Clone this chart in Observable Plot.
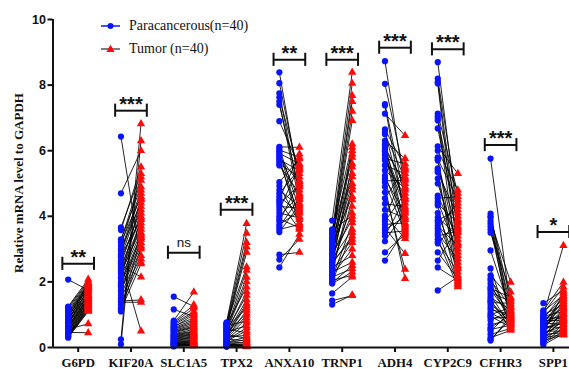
<!DOCTYPE html>
<html><head><meta charset="utf-8">
<script src="https://cdn.jsdelivr.net/npm/d3@7"></script>
<script src="https://cdn.jsdelivr.net/npm/@observablehq/plot@0.6"></script>
<style>
body{margin:0;background:#fff;}
#wrap{position:relative;width:569px;height:369px;overflow:hidden;}
#ylab{position:absolute;left:19px;top:183px;transform:translate(-50%,-50%) rotate(-90deg);white-space:nowrap;font:bold 13px "Liberation Serif";color:#111;}
#legend{position:absolute;left:101px;top:14px;font:14px "Liberation Serif",serif;color:#111;}
#legend .row{display:flex;align-items:center;height:23px;}
#legend svg{margin-right:9px;}
</style></head>
<body><div id="wrap"><div id="ylab"></div><div id="legend"></div></div>
<script>
const genes = ["G6PD","KIF20A","SLC1A5","TPX2","ANXA10","TRNP1","ADH4","CYP2C9","CFHR3","SPP1"];
const seriesNames = ["Paracancerous(n=40)","Tumor (n=40)"];
const yLabel = "Relative mRNA level to GAPDH";
const sigLabels = ["**","***","ns","***","**","***","***","***","***","*"];
const sigHeights = [2.55,7.22,2.89,4.2,8.77,8.77,9.14,9.09,6.17,3.52];

const g6pdPara = [2.07,1.25,1.22,1.18,1.12,1.08,1.05,1.02,0.98,0.95,0.92,0.9,0.88,0.85,0.82,0.8,0.78,0.75,0.72,0.7,0.68,0.66,0.64,0.62,0.6,0.58,0.56,0.54,0.52,0.5,0.48,0.46,0.45,0.42,0.4,0.38,0.36,0.34,0.32,0.3];
const g6pdTumor = [1.75,2.08,2.02,1.98,1.95,1.92,1.88,1.85,1.82,1.78,1.95,1.72,1.7,1.65,1.88,1.62,1.6,1.58,1.55,1.8,1.52,1.5,1.48,1.45,1.42,1.4,0.72,1.38,1.35,1.32,1.3,0.45,1.28,1.25,1.22,1.2,1.18,1.15,1.12,1.1];
const kif20aPara = [6.43,4.7,3.66,3.58,3.3,3.25,3.2,3.1,3.0,2.95,2.85,2.8,2.75,2.65,2.6,2.55,2.5,2.45,2.4,2.35,2.3,2.25,2.15,2.1,2.0,1.95,1.9,1.85,1.75,1.7,1.6,1.5,1.42,1.38,1.3,1.2,1.15,1.1,0.25,0.1];
const kif20aTumor = [2.6,6.0,5.3,5.5,4.9,5.2,4.6,5.1,4.4,4.8,4.7,3.9,4.5,4.2,0.5,4.3,2.15,4.0,4.1,3.8,3.6,3.7,3.5,4.55,3.4,3.3,3.95,3.2,3.1,3.45,3.0,2.8,1.45,1.38,2.7,3.35,2.55,3.05,6.82,6.3];
const slc1a5Para = [1.55,1.16,0.82,0.78,0.75,0.72,0.68,0.65,0.62,0.6,0.57,0.55,0.52,0.5,0.48,0.45,0.42,0.4,0.38,0.36,0.34,0.32,0.3,0.28,0.26,0.24,0.22,0.2,0.18,0.16,0.15,0.14,0.12,0.11,0.1,0.09,0.08,0.06,0.05,0.03];
const slc1a5Tumor = [1.25,0.95,1.69,1.3,1.2,1.1,1.05,0.9,1.0,0.85,0.8,0.75,0.7,0.65,0.62,0.6,0.55,0.5,0.48,0.45,0.42,0.4,0.38,0.35,0.32,0.3,0.28,0.25,0.22,0.2,0.18,0.16,0.14,0.12,0.1,0.09,0.08,0.07,0.06,0.05];
const tpx2Para = [0.77,0.74,0.72,0.7,0.68,0.66,0.64,0.62,0.6,0.58,0.56,0.54,0.52,0.5,0.48,0.46,0.44,0.42,0.4,0.38,0.36,0.34,0.32,0.3,0.28,0.26,0.24,0.22,0.2,0.18,0.16,0.14,0.12,0.1,0.09,0.08,0.06,0.05,0.04,0.02];
const tpx2Tumor = [3.78,2.45,3.48,1.84,3.2,0.81,3.06,2.9,1.2,2.35,0.45,2.14,1.59,2.0,0.66,1.7,1.05,1.45,0.28,1.35,1.28,0.98,0.37,1.13,0.9,0.2,0.75,0.6,0.51,0.13,0.32,0.24,0.05,0.16,0.1,0.08,0.06,0.04,0.03,0.02];
const anxa10Para = [8.39,8.06,7.75,7.63,7.5,7.4,6.9,6.12,6.08,6.02,5.98,5.92,5.88,5.82,5.78,5.72,5.66,5.6,5.55,5.04,4.92,4.8,4.7,4.6,4.52,4.45,4.38,4.3,4.2,4.1,4.0,3.92,3.85,3.75,3.68,3.6,3.52,2.83,2.68,2.44];
const anxa10Tumor = [4.9,5.1,4.6,5.3,4.4,4.8,5.5,6.1,4.2,5.8,3.9,5.6,4.5,5.0,3.7,5.4,4.0,5.2,4.7,5.75,3.8,4.3,5.45,4.1,5.9,3.6,4.95,4.25,5.55,3.95,4.65,3.65,5.05,4.15,4.55,3.75,4.35,2.9,3.3,3.45];
const trnp1Para = [3.87,3.57,3.5,3.45,3.4,3.35,3.3,3.25,3.2,3.15,3.1,3.05,3.0,2.95,2.9,2.85,2.8,2.75,2.7,2.65,2.6,2.55,2.5,2.45,2.4,2.35,2.3,2.25,2.2,2.15,2.1,2.05,2.0,1.97,1.95,3.6,1.65,1.43,1.31,2.6];
const trnp1Tumor = [8.39,6.2,8.05,5.8,7.68,7.5,5.2,7.2,6.92,4.6,6.1,6.0,5.5,5.0,4.8,3.9,5.9,4.3,3.6,5.3,4.1,3.4,5.6,2.8,4.5,3.2,2.6,4.9,3.0,2.4,3.8,2.2,3.5,2.5,2.3,4.0,2.15,1.58,1.6,3.3];
const adh4Para = [8.73,8.04,7.42,7.38,7.13,6.65,6.58,6.5,6.3,6.12,6.05,5.98,5.9,5.76,5.7,5.55,5.24,5.15,5.08,5.03,4.73,4.38,4.02,3.95,3.85,3.75,3.65,3.58,3.5,3.24,2.9,2.65,6.0,5.4,4.9,4.55,4.2,3.4,5.85,6.2];
const adh4Tumor = [4.8,5.2,4.5,3.9,6.46,5.5,4.2,5.15,5.76,4.9,5.0,4.4,3.4,5.6,4.6,5.3,3.7,4.1,5.1,3.5,2.38,4.3,3.32,5.4,4.7,3.8,2.86,4.0,3.55,4.15,3.45,3.6,3.65,4.85,2.1,5.45,3.95,4.55,4.25,3.75];
const cyp2c9Para = [8.7,8.2,8.1,8.05,7.13,7.05,6.98,6.92,6.68,6.13,5.8,5.75,5.7,5.46,5.4,5.34,5.15,4.63,4.55,4.45,4.38,4.33,3.96,3.88,3.8,3.72,3.63,3.47,3.4,3.3,3.22,3.17,2.9,2.65,2.44,1.74,6.0,5.0,4.1,3.55];
const cyp2c9Tumor = [3.9,4.3,3.5,2.8,4.7,3.2,2.5,4.1,3.7,5.3,2.2,4.5,3.0,3.6,2.0,4.0,2.6,3.3,4.6,2.9,3.8,1.9,3.4,4.2,2.4,3.1,4.4,2.7,3.55,1.85,2.3,3.85,2.1,3.65,2.05,2.15,4.8,3.15,2.45,1.95];
const cfhr3Para = [5.76,4.08,4.0,3.96,3.86,3.78,3.7,3.6,3.5,2.96,2.41,2.2,2.1,2.04,1.95,1.85,1.75,1.68,1.6,1.52,1.45,1.37,1.3,1.22,1.15,1.06,1.0,0.95,0.9,0.82,0.7,0.61,0.55,0.5,0.4,0.3,0.21,1.8,1.4,0.25];
const cfhr3Tumor = [1.2,1.0,1.45,0.8,1.99,0.7,1.3,0.9,1.69,1.1,0.6,1.5,0.85,1.25,0.75,1.05,0.95,1.4,0.65,1.15,0.55,1.35,0.88,0.78,1.02,0.72,1.22,0.62,0.92,1.12,0.82,0.98,0.68,1.08,0.58,0.52,0.95,1.53,0.75,0.86];
const spp1Para = [1.35,1.13,1.1,1.05,1.0,0.98,0.95,0.92,0.9,0.88,0.85,0.82,0.8,0.78,0.75,0.72,0.7,0.68,0.65,0.62,0.6,0.58,0.55,0.52,0.5,0.48,0.45,0.42,0.4,0.38,0.35,0.32,0.3,0.28,0.25,0.22,0.2,0.15,0.12,0.08];
const spp1Tumor = [1.75,1.99,1.6,1.84,1.3,3.11,1.1,1.5,0.9,1.65,1.2,0.82,1.4,1.0,0.7,1.55,0.95,1.25,0.6,1.45,1.15,0.75,1.35,0.85,0.5,1.05,0.65,1.7,0.45,0.8,1.0,0.55,0.4,1.2,0.9,0.38,0.7,0.6,0.5,0.42];

const paraSets = [g6pdPara,kif20aPara,slc1a5Para,tpx2Para,anxa10Para,trnp1Para,adh4Para,cyp2c9Para,cfhr3Para,spp1Para];
const tumorSets = [g6pdTumor,kif20aTumor,slc1a5Tumor,tpx2Tumor,anxa10Tumor,trnp1Tumor,adh4Tumor,cyp2c9Tumor,cfhr3Tumor,spp1Tumor];

const rows = [];
genes.forEach((g, i) => paraSets[i].forEach((v, j) => rows.push({i, para: v, tumor: tumorSets[i][j]})));
const sig = genes.map((g, i) => ({i, s: sigLabels[i], y: sigHeights[i]}));

const BLUE = "#0a14ff", RED = "#ff0a0a";
const off = 0.19, half = 0.3, cap = 0.2;
const xDomain = [-0.477, 9.305];

const chart = Plot.plot({
  width: 569, height: 369,
  marginTop: 19, marginBottom: 22, marginLeft: 52.5, marginRight: 0,
  style: {background: "white", color: "#111", overflow: "visible"},
  x: {domain: xDomain, ticks: 10, tickFormat: i => genes[i], tickSize: 5, tickPadding: 5, label: null},
  y: {domain: [0, 10], ticks: 5, tickSize: 5, tickPadding: 2, label: null},
  marks: [
    Plot.link(rows, {x1: d => d.i - off, x2: d => d.i + off, y1: "para", y2: "tumor", stroke: "#000", strokeWidth: 0.85}),
    Plot.dot(rows, {x: d => d.i - off, y: "para", r: 3.1, fill: BLUE}),
    Plot.dot(rows, {x: d => d.i + off, y: "tumor", r: 3.1, symbol: "triangle", fill: RED}),
    Plot.link(sig, {x1: d => d.i - half, x2: d => d.i + half, y1: "y", y2: "y", stroke: "#111", strokeWidth: 2}),
    Plot.ruleX(sig, {x: d => d.i - half, y1: d => d.y - cap, y2: d => d.y + cap, stroke: "#111", strokeWidth: 2}),
    Plot.ruleX(sig, {x: d => d.i + half, y1: d => d.y - cap, y2: d => d.y + cap, stroke: "#111", strokeWidth: 2}),
    Plot.text(sig.filter(d => d.s !== "ns"), {x: "i", y: "y", text: "s", lineAnchor: "bottom", dy: 0, fontSize: 20, fontWeight: "bold", fontFamily: "Liberation Sans", fill: "#111", style: "letter-spacing:1.5px"}),
    Plot.text(sig.filter(d => d.s === "ns"), {x: "i", y: "y", text: "s", lineAnchor: "bottom", dy: -6, fontSize: 13.5, fontFamily: "Liberation Sans", fill: "#111"}),
    Plot.ruleY([0], {stroke: "#111", strokeWidth: 2}),
    Plot.ruleX([xDomain[0]], {stroke: "#111", strokeWidth: 2})
  ]
});

const svg = d3.select(chart);
svg.selectAll('[aria-label^="x-axis"] text').attr("font-family", "Liberation Serif").attr("font-weight", "bold").attr("font-size", 12.8).attr("fill", "#111");
svg.selectAll('[aria-label^="y-axis"] text').attr("font-family", "Liberation Sans").attr("font-weight", "bold").attr("font-size", 12.5).attr("fill", "#111");
svg.selectAll('[aria-label^="x-axis"] path, [aria-label^="x-axis"] line, [aria-label^="y-axis"] path, [aria-label^="y-axis"] line').attr("stroke-width", 2).attr("stroke", "#111");
chart.style.position = "absolute"; chart.style.left = "0"; chart.style.top = "0";
const wrap = document.getElementById("wrap");
wrap.insertBefore(chart, wrap.firstChild);

document.getElementById("ylab").textContent = yLabel;
const legend = d3.select("#legend");
seriesNames.forEach((name, k) => {
  const row = legend.append("div").attr("class", "row");
  const s = row.append("svg").attr("width", 19).attr("height", 10);
  s.append("line").attr("x1", 0).attr("x2", 19).attr("y1", 5).attr("y2", 5).attr("stroke", k ? "#555" : BLUE).attr("stroke-width", 1.5);
  if (k) s.append("path").attr("d", d3.symbol(d3.symbolTriangle, 30)()).attr("transform", "translate(9.5,5.5)").attr("fill", RED);
  else s.append("circle").attr("cx", 9.5).attr("cy", 5).attr("r", 3).attr("fill", BLUE);
  row.append("span").text(name);
});
</script></body></html>
